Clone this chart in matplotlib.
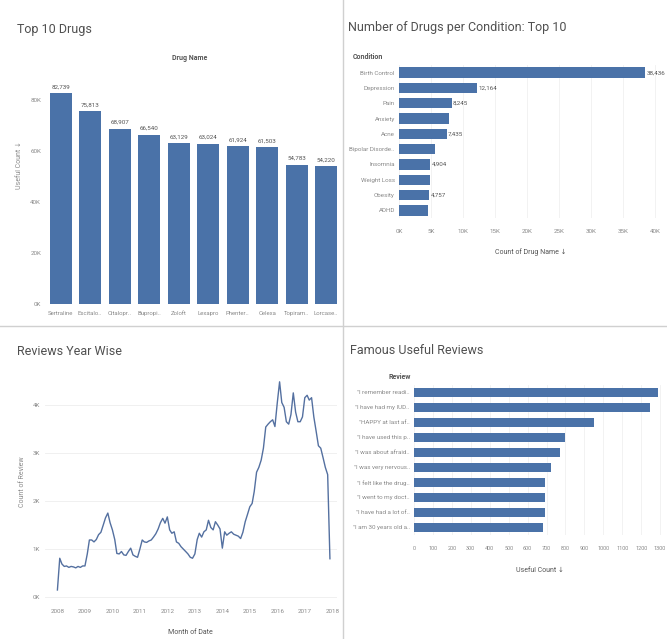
import matplotlib
matplotlib.use("Agg")
import matplotlib.pyplot as plt
import numpy as np
import pandas as pd

plt.rcParams['font.family'] = ['Roboto', 'DejaVu Sans']

W, H = 667, 639
BLUE = "#4a72a8"
GRAY = "#555555"
LIGHT = "#8a8a8a"
TITLE = "#505050"

# Top 10 drugs by useful count
drugs = ["Sertraline", "Escitalo..", "Citalopr..", "Bupropi..", "Zoloft",
         "Lexapro", "Phenter..", "Celexa", "Topiram..", "Lorcase.."]
drug_useful = [82739, 75813, 68907, 66540, 63129, 63024, 61924, 61503, 54783, 54220]

# Number of drugs per condition
conditions = ["Birth Control", "Depression", "Pain", "Anxiety", "Acne",
              "Bipolar Disorde..", "Insomnia", "Weight Loss", "Obesity", "ADHD"]
cond_counts = [38436, 12164, 8245, 7812, 7435, 5592, 4904, 4857, 4757, 4509]
cond_labelled = [True, True, True, False, True, False, True, False, True, False]

# Reviews per month, Jan 2008 - Dec 2017
review_counts = [
    150, 810, 690, 640, 650, 620, 640, 630, 610, 640, 620, 650,
    650, 900, 1190, 1190, 1150, 1200, 1300, 1350, 1500, 1650, 1750, 1550,
    1400, 1200, 910, 900, 950, 880, 870, 950, 1020, 880, 850, 830,
    1000, 1190, 1150, 1140, 1170, 1190, 1250, 1320, 1420, 1550, 1640, 1540,
    1670, 1400, 1330, 1360, 1150, 1120, 1050, 1000, 950, 900, 830, 810,
    900, 1200, 1330, 1250, 1360, 1400, 1600, 1450, 1400, 1570, 1500, 1420,
    1020, 1360, 1290, 1330, 1360, 1310, 1290, 1270, 1220, 1350, 1570, 1720,
    1880, 1950, 2200, 2600, 2700, 2850, 3100, 3540, 3600, 3650, 3690, 3550,
    4040, 4480, 4050, 3950, 3650, 3600, 3800, 4250, 3850, 3650, 3650, 3750,
    4150, 4200, 4100, 4150, 3750, 3450, 3150, 3100, 2900, 2700, 2550, 800,
]
months = pd.date_range("2008-01-01", periods=len(review_counts), freq="MS")
years = list(range(2008, 2019))

# Most useful reviews
reviews = ['"I remember readi..', '"I have had my IUD..', '"HAPPY at last af..',
           '"I have used this p..', '"I was about afraid..', '"I was very nervous..',
           '"I felt like the drug..', '"I went to my doct..', '"I have had a lot of..',
           '"I am 30 years old a..']
review_useful = [1291, 1247, 949, 797, 771, 725, 694, 691, 691, 681]


def rect(l, t, r, b):
    return [l / W, 1 - b / H, (r - l) / W, (b - t) / H]


def ftext(x, y, s, **kw):
    fig.text(x / W, 1 - y / H, s, **kw)


def clean(ax):
    for sp in ax.spines.values():
        sp.set_visible(False)
    ax.tick_params(length=0, colors=LIGHT, labelsize=4.5)


fig = plt.figure(figsize=(W / 100, H / 100), dpi=100)

# dividers
fig.add_artist(plt.Line2D([343 / W, 343 / W], [0, 1], color="#d0d0d0", lw=1))
fig.add_artist(plt.Line2D([0, 1], [1 - 326 / H, 1 - 326 / H], color="#d0d0d0", lw=1))

# ---- Top 10 Drugs ----
ax1 = fig.add_axes(rect(46, 80, 341, 304))
x = np.arange(len(drugs))
ax1.bar(x, drug_useful, width=0.75, color=BLUE)
ax1.set_xlim(-0.5, len(drugs) - 0.5)
ax1.set_ylim(0, 88000)
ax1.set_yticks([0, 20000, 40000, 60000, 80000])
ax1.set_yticklabels(["0K", "20K", "40K", "60K", "80K"])
ax1.set_xticks(x)
ax1.set_xticklabels(drugs)
clean(ax1)
ax1.tick_params(axis="x", labelsize=4.3, pad=5)
for xi, v in zip(x, drug_useful):
    ax1.text(xi, v + 1500, f"{v:,}", ha="center", va="bottom", fontsize=4.5, color=GRAY)
ftext(17, 30, "Top 10 Drugs", fontsize=9, color=TITLE, va="center")
ftext(190, 58, "Drug Name", fontsize=5, color=GRAY, ha="center", va="center", weight="bold")
ftext(19, 165, "Useful Count \u2193", fontsize=5, color=LIGHT, rotation=90, ha="center", va="center")

# ---- Number of Drugs per Condition ----
ax2 = fig.add_axes(rect(399, 65, 664, 218))
y = np.arange(len(conditions))
ax2.barh(y, cond_counts, height=0.68, color=BLUE)
ax2.set_ylim(len(conditions) - 0.5, -0.5)
ax2.set_xlim(0, 41400)
ax2.set_xticks(np.arange(0, 40001, 5000))
ax2.set_xticklabels([f"{int(t / 1000)}K" for t in np.arange(0, 40001, 5000)])
ax2.set_yticks(y)
ax2.set_yticklabels(conditions)
clean(ax2)
ax2.tick_params(axis="x", pad=8)
ax2.tick_params(axis="y", pad=3)
ax2.grid(axis="x", color="#f0f0f0", lw=0.6)
ax2.set_axisbelow(True)
for yi, v, lab in zip(y, cond_counts, cond_labelled):
    if lab:
        ax2.text(v + 200, yi, f"{v:,}", va="center", ha="left", fontsize=4.5, color=GRAY)
ftext(348, 28, "Number of Drugs per Condition: Top 10", fontsize=9, color=TITLE, va="center")
ftext(368, 57, "Condition", fontsize=5, color=GRAY, ha="center", va="center", weight="bold")
ftext(531, 252, "Count of Drug Name \u2193", fontsize=5, color=GRAY, ha="center", va="center")

# ---- Reviews Year Wise ----
ax3 = fig.add_axes(rect(45, 365, 337, 602))
ax3.plot(months, review_counts, color="#5470a0", lw=1.0)
ax3.set_xlim(pd.Timestamp("2007-07-20"), pd.Timestamp("2018-03-05"))
ax3.set_ylim(-100, 4830)
ax3.set_yticks([0, 1000, 2000, 3000, 4000])
ax3.set_yticklabels(["0K", "1K", "2K", "3K", "4K"])
ax3.set_xticks([pd.Timestamp(f"{yr}-01-01") for yr in years])
ax3.set_xticklabels([str(yr) for yr in years])
clean(ax3)
ax3.tick_params(axis="x", pad=5)
ax3.grid(axis="y", color="#eeeeee", lw=0.6)
ftext(17, 351, "Reviews Year Wise", fontsize=9, color=TITLE, va="center")
ftext(190, 632, "Month of Date", fontsize=5, color=GRAY, ha="center", va="center")
ftext(22, 482, "Count of Review", fontsize=5, color=LIGHT, rotation=90, ha="center", va="center")

# ---- Famous Useful Reviews ----
ax4 = fig.add_axes(rect(414, 385, 662, 535))
y4 = np.arange(len(reviews))
ax4.barh(y4, review_useful, height=0.62, color=BLUE)
ax4.set_ylim(len(reviews) - 0.5, -0.5)
ax4.set_xlim(0, 1310)
ax4.set_xticks(np.arange(0, 1301, 100))
ax4.set_yticks(y4)
ax4.set_yticklabels(reviews)
clean(ax4)
ax4.tick_params(axis="x", labelsize=4, pad=8)
ax4.tick_params(axis="y", pad=3)
ax4.grid(axis="x", color="#f0f0f0", lw=0.6)
ax4.set_axisbelow(True)
ftext(350, 350, "Famous Useful Reviews", fontsize=9, color=TITLE, va="center")
ftext(400, 377, "Review", fontsize=5, color=GRAY, ha="center", va="center", weight="bold")
ftext(540, 570, "Useful Count \u2193", fontsize=5, color=GRAY, ha="center", va="center")

fig.savefig("out.png", dpi=100)
